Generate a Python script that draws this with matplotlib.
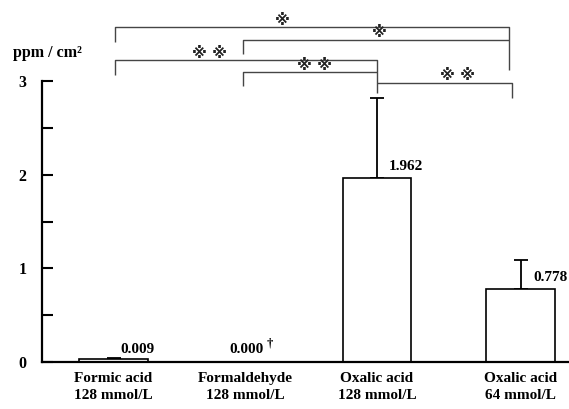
import matplotlib.pyplot as plt

plt.rcParams['font.family'] = ['Liberation Serif', 'DejaVu Sans']
plt.rcParams['font.weight'] = 'bold'

# data
groups = ['Formic acid\n128 mmol/L', 'Formaldehyde\n128 mmol/L',
          'Oxalic acid\n128 mmol/L', 'Oxalic acid\n64 mmol/L']
xpos = [0, 1, 2, 3.09]
heights = [0.035, 0.0, 1.962, 0.778]
errors = [0.01, 0.0, 0.86, 0.31]
value_labels = ['0.009', '0.000', '1.962', '0.778']

# significance brackets: (left x, right x, bar y, left leg y, right leg y, stars)
brackets = [
    (0.01, 3.0, 3.573, 3.42, 3.117, '※'),
    (0.985, 3.0, 3.434, 3.285, 3.434, '※'),
    (0.01, 2.0, 3.221, 3.064, 2.875, '※ ※'),
    (0.985, 2.0, 3.099, 2.947, 3.099, '※ ※'),
    (2.0, 3.022, 2.975, 2.975, 2.822, '※ ※'),
]
star_pos = [(1.281, 3.651), (2.019, 3.52), (0.732, 3.296), (1.522, 3.163), (2.611, 3.056)]

fig = plt.figure(figsize=(5.69, 4.09), dpi=100)
ax = fig.add_axes([42 / 569, 47 / 409, 1 - 42 / 569, 1 - 47 / 409])

ax.bar(xpos, heights, width=0.52, color='white', edgecolor='black', linewidth=1.2, zorder=2)
err_x = [xpos[0], xpos[2], xpos[3]]
ax.errorbar(err_x, [heights[0], heights[2], heights[3]],
            yerr=[[0, 0, 0], [errors[0], errors[2], errors[3]]],
            fmt='none', ecolor='black', elinewidth=1.3, capsize=4.7, capthick=1.3, zorder=1)

# value labels
ax.text(0.05, 0.13, value_labels[0], fontsize=11, va='center', ha='left')
ax.text(0.88, 0.13, value_labels[1], fontsize=11, va='center', ha='left')
ax.text(1.165, 0.2, '†', fontsize=9, va='center', ha='left')
ax.text(2.085, 2.09, value_labels[2], fontsize=11, va='center', ha='left')
ax.text(3.19, 0.897, value_labels[3], fontsize=11, va='center', ha='left')

# brackets
for (x1, x2, y, yl, yr, s), (sx, sy) in zip(brackets, star_pos):
    ax.plot([x1, x1, x2, x2], [yl, y, y, yr], color='#454545', lw=1.0,
            solid_capstyle='butt', clip_on=False)
    ax.text(sx, sy, s, fontsize=11, ha='center', va='center',
            family=['DejaVu Sans'], fontweight='bold', color='#222222')

ax.set_xlim(-0.543, 3.457)
ax.set_ylim(0, 3.865)
ax.set_xticks(xpos)
ax.set_xticklabels(groups, fontsize=11, linespacing=1.45)
ax.tick_params(axis='x', length=0, pad=7)
ax.set_yticks([0, 0.5, 1, 1.5, 2, 2.5, 3])
ax.set_yticklabels(['0', '', '1', '', '2', '', '3'], fontsize=11.5)
ax.tick_params(axis='y', direction='in', length=8, width=1.5, pad=11)

for side in ['top', 'right']:
    ax.spines[side].set_visible(False)
ax.spines['left'].set_bounds(0, 3)
ax.spines['left'].set_linewidth(1.6)
ax.spines['bottom'].set_linewidth(1.6)

fig.text(13 / 569, 1 - 53 / 409, 'ppm / cm²', fontsize=11.5, ha='left', va='center')

fig.savefig('out.png', dpi=100)
